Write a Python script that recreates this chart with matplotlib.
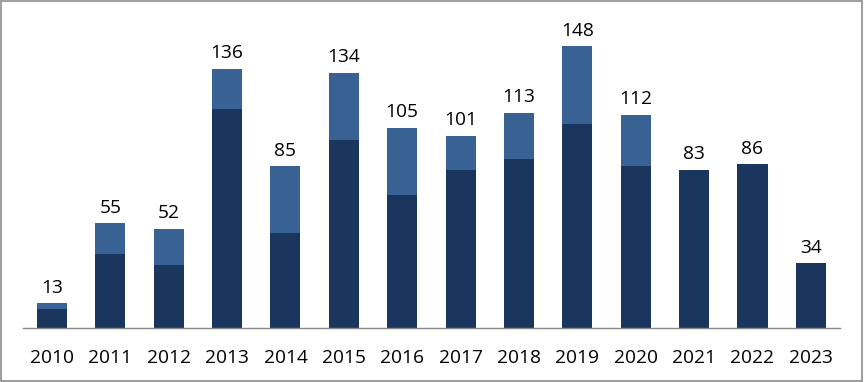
import matplotlib
matplotlib.use("Agg")
import matplotlib.pyplot as plt
from matplotlib.patches import Rectangle

# data
years = ['2010', '2011', '2012', '2013', '2014', '2015', '2016',
         '2017', '2018', '2019', '2020', '2021', '2022', '2023']
totals = [13, 55, 52, 136, 85, 134, 105, 101, 113, 148, 112, 83, 86, 34]
lower = [10, 39, 33, 115, 50, 99, 70, 83, 89, 107, 85, 83, 86, 34]
upper = [t - b for t, b in zip(totals, lower)]

dark = '#1a365e'
light = '#386293'

plt.rcParams['font.family'] = ['Open Sans', 'DejaVu Sans']

fig = plt.figure(figsize=(8.64, 3.82), dpi=100)
ax = fig.add_axes([0.0263, 0.1414, 0.946, 0.832])

x = list(range(len(years)))
ax.bar(x, lower, width=0.515, color=dark)
ax.bar(x, upper, width=0.515, bottom=lower, color=light)

for i, t in enumerate(totals):
    ax.text(i, t + 3.5, str(t), ha='center', va='bottom', fontsize=13.8, color='black')

ax.set_xlim(-0.5, 13.5)
ax.set_ylim(0, 167)
ax.set_xticks(x)
ax.set_xticklabels(years, fontsize=13.8)
ax.tick_params(axis='x', length=0, pad=15)
ax.set_yticks([])
for s in ['top', 'right', 'left']:
    ax.spines[s].set_visible(False)
ax.spines['bottom'].set_color('#888888')
ax.spines['bottom'].set_linewidth(1)

# grey frame around the whole picture
fig.patches.append(Rectangle((0.001, 0.002), 0.997, 0.995, transform=fig.transFigure,
                             fill=False, edgecolor='#8c8c8c', linewidth=1.2))

fig.savefig('out.png', dpi=100)
